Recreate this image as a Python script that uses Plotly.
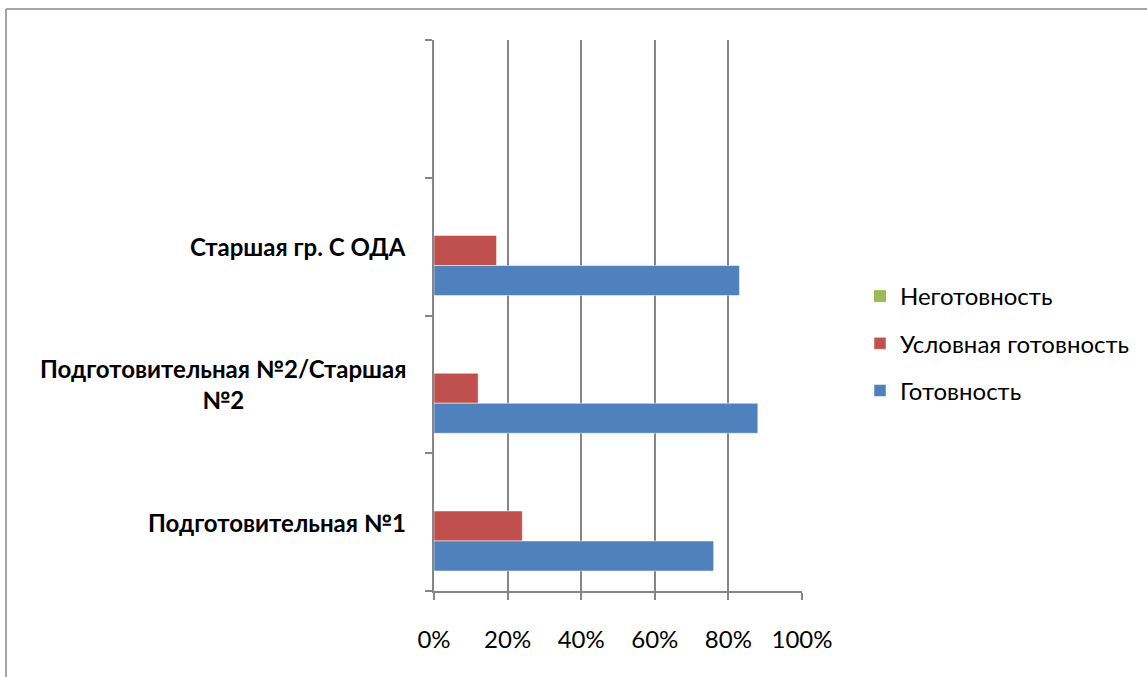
import plotly.graph_objects as go

categories = ["Подготовительная №1", "Подготовительная №2/Старшая<br>№2", "Старшая гр. С ОДА", ""]
positions = [0, 1, 2, 3]
gotovnost = [0.76, 0.88, 0.83]
uslovnaya = [0.24, 0.12, 0.17]
negotovnost = [0, 0, 0]
x_ticks = [0, 0.2, 0.4, 0.6, 0.8, 1.0]
x_ticklabels = ["0%", "20%", "40%", "60%", "80%", "100%"]

W, H = 1147, 677
L, R, T, B = 434, 802, 40, 591
FONT = "Lato, Carlito, Calibri, sans-serif"
GRID = "#868686"

fig = go.Figure()
bw = 0.218
fig.add_trace(go.Bar(name="Неготовность", y=positions[:3], x=negotovnost, orientation="h",
                     marker=dict(color="#9BBB59", line=dict(width=0)),
                     width=bw, offset=0.081, legendgroup="c"))
fig.add_trace(go.Bar(name="Условная готовность", y=positions[:3], x=uslovnaya, orientation="h",
                     marker=dict(color="#C0504D", line=dict(color="rgba(255,255,255,0.5)", width=1)),
                     width=bw, offset=-0.137, legendgroup="b"))
fig.add_trace(go.Bar(name="Готовность", y=positions[:3], x=gotovnost, orientation="h",
                     marker=dict(color="#4F81BD", line=dict(color="rgba(255,255,255,0.5)", width=1)),
                     width=bw, offset=-0.355, legendgroup="a"))

for p, c in zip(positions, categories):
    if c:
        fig.add_annotation(x=0, y=p, xref="paper", yref="y", text="<b>" + c + "</b>",
                           showarrow=False, xanchor="right", yanchor="middle", align="center",
                           xshift=-26, font=dict(family=FONT, size=24, color="#000000"))

pw, ph = R - L, B - T
def px(xp):
    return (xp - L) / pw
def py(yp):
    return (B - yp) / ph

fig.add_shape(type="line", xref="paper", yref="paper", x0=px(6), x1=px(1160), y0=py(9), y1=py(9),
              line=dict(color=GRID, width=1.5))
fig.add_shape(type="line", xref="paper", yref="paper", x0=px(6), x1=px(6), y0=py(9), y1=py(690),
              line=dict(color=GRID, width=1.5))

fig.update_layout(
    width=W, height=H,
    margin=dict(l=L, r=W - R, t=T, b=H - B, pad=0),
    paper_bgcolor="white", plot_bgcolor="white",
    barmode="group",
    font=dict(family=FONT, size=24, color="#000000"),
    showlegend=True,
    legend=dict(x=px(860), y=py(274), xanchor="left", yanchor="top", traceorder="grouped",
                tracegroupgap=13, font=dict(family=FONT, size=24, color="#000000"),
                bgcolor="rgba(0,0,0,0)", itemclick=False),
    xaxis=dict(range=[0, 1], tickvals=x_ticks, ticktext=x_ticklabels, showgrid=True,
               gridcolor=GRID, gridwidth=1.5, showline=True, linecolor=GRID, linewidth=1.5,
               ticks="outside", ticklen=7, tickcolor=GRID, tickwidth=1.5, zeroline=False,
               ticklabelstandoff=19, tickfont=dict(family=FONT, size=24)),
    yaxis=dict(range=[-0.5, 3.5], tickvals=[-0.5, 0.5, 1.5, 2.5, 3.5], showticklabels=False,
               showgrid=False, zeroline=False, showline=True, linecolor=GRID, linewidth=1.5,
               ticks="outside", ticklen=7, tickcolor=GRID, tickwidth=1.5),
)

fig.write_html("out.html", config={"displayModeBar": False},
               post_script="document.body.style.margin='0';")
